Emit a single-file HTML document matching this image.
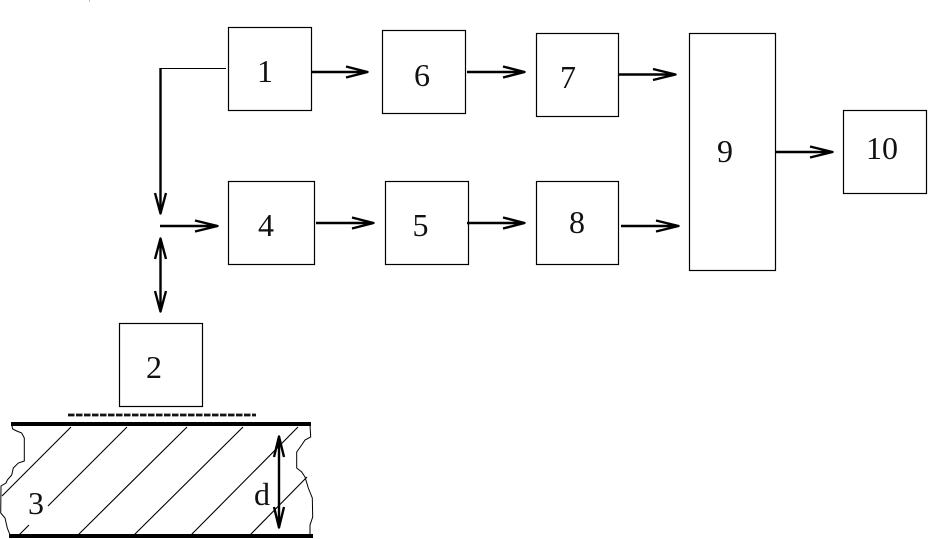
<!DOCTYPE html>
<html>
<head>
<meta charset="utf-8">
<style>
html,body{margin:0;padding:0;background:#fff;width:928px;height:539px;overflow:hidden}
svg{display:block}
text{font-family:"Liberation Serif",serif;font-size:32px;fill:#111;text-anchor:middle}
.box{fill:#fff;stroke:#000;stroke-width:1.2}
.ar{fill:none;stroke:#000;stroke-width:2.4;stroke-linejoin:round}
.h{fill:none;stroke:#000;stroke-width:1.1}
</style>
</head>
<body>
<svg width="928" height="539" viewBox="0 0 928 539" xmlns="http://www.w3.org/2000/svg">
<rect width="928" height="539" fill="#fff"/>
<path d="M89.5 0V2" stroke="#bbb" stroke-width="1"/>

<!-- boxes -->
<rect class="box" x="228.5" y="27.5" width="83" height="83"/>
<rect class="box" x="382.5" y="30.5" width="83" height="83"/>
<rect class="box" x="536.5" y="33.5" width="82" height="83"/>
<rect class="box" x="689.5" y="33.5" width="86" height="237"/>
<rect class="box" x="843.5" y="110.5" width="83" height="83"/>
<rect class="box" x="228.5" y="181.5" width="86" height="83"/>
<rect class="box" x="385.5" y="181.5" width="83" height="83"/>
<rect class="box" x="536.5" y="181.5" width="82" height="83"/>
<rect class="box" x="119.5" y="323.5" width="83" height="83"/>

<!-- connector from 1 -->
<path d="M161 68.5H226" fill="none" stroke="#000" stroke-width="1.1"/>
<path class="ar" d="M160.5 68V213"/>
<path class="ar" d="M155 193L160.500 213.500L166 193"/>

<!-- arrows -->
<path class="ar" d="M311 72H367M346 66.500L367.500 72L346 77.500"/>
<path class="ar" d="M467 72H524M503 66.500L524.500 72L503 77.500"/>
<path class="ar" d="M618 74.500H675M653 69L675.500 74.500L653 80"/>
<path class="ar" d="M621 226H678M656 220.500L678.500 226L656 231.500"/>
<path class="ar" d="M776 152H832M810 146.500L832.500 152L810 157.500"/>
<path class="ar" d="M316 223H373M352 217.500L373.500 223L352 228.500"/>
<path class="ar" d="M467 223H524M503 217.500L524.500 223L503 228.500"/>
<path class="ar" d="M160 226H217M195 220.500L217.500 226L195 231.500"/>
<path class="ar" d="M160.500 239V311M155 259L160.500 238.500L166 259M155 291L160.500 311.500L166 291"/>

<!-- substrate -->
<path d="M68 415H256" fill="none" stroke="#111" stroke-width="2.800" stroke-dasharray="6.500 1.500"/>
<path class="h" d="M71 427L2 496M127 427L48 506M29 525L19 535M187 427L78 535M243 427L134 535M298 427L191 535M307 477L250 535"/>
<path fill="none" stroke="#000" stroke-width="1" d="M11.700 425L12.700 429L16.700 431L21.700 433L24.300 438V461L18.300 463L13.300 468L11.700 475L7.300 480L6 483L1 486L.7 513L5 518L7.300 528L10 535"/>
<path fill="none" stroke="#000" stroke-width="1" d="M310 425L310.700 437L305 440L301.700 445L296.700 452V468L301.700 472L305 477L308.300 488L312.300 498L312.700 517L310 525V535"/>
<path d="M11 424H311" stroke="#000" stroke-width="4" fill="none"/>
<path d="M9 536H313" stroke="#000" stroke-width="4" fill="none"/>
<path class="ar" d="M279 437V527M274 457L279 436.500L284 457M274 507L279 527.500L284 507"/>

<!-- labels -->
<text x="265" y="82">1</text>
<text x="422" y="86">6</text>
<text x="568" y="88">7</text>
<text x="725" y="162">9</text>
<text x="882" y="159">10</text>
<text x="266" y="236">4</text>
<text x="420.500" y="236">5</text>
<text x="577" y="233">8</text>
<text x="154" y="378">2</text>
<text x="36" y="514">3</text>
<text x="262" y="505">d</text>
</svg>
</body>
</html>
